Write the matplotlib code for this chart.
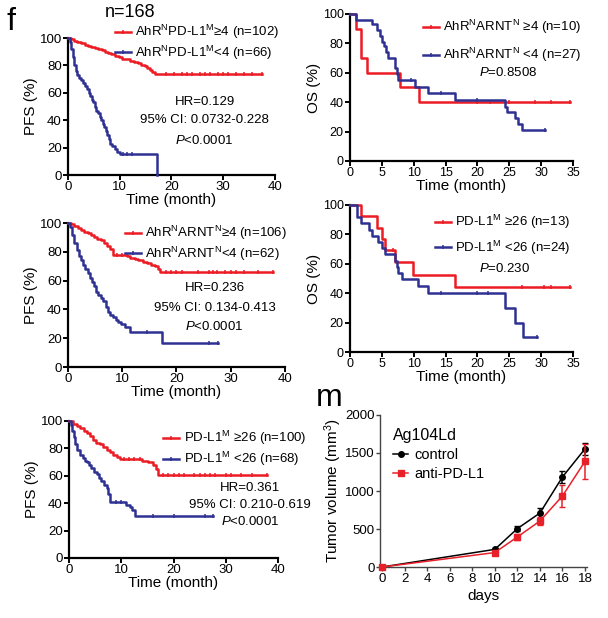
import matplotlib
matplotlib.use("Agg")
import matplotlib.pyplot as plt
from matplotlib.lines import Line2D
import numpy as np

plt.rcParams['font.family'] = ['Liberation Sans', 'DejaVu Sans']
plt.rcParams['mathtext.fontset'] = 'custom'
plt.rcParams['mathtext.rm'] = 'Liberation Sans'
plt.rcParams['mathtext.it'] = 'Liberation Sans:italic'
plt.rcParams['mathtext.bf'] = 'Liberation Sans:bold'
plt.rcParams['mathtext.default'] = 'regular'

RED = '#ec1c24'
BLUE = '#2e3192'

# ---- panel f1: PFS by AhR^N PD-L1^M ----
p1_hi_t = [0.5, 1.2, 1.8, 2.5, 3.2, 3.8, 4.5, 5.2, 5.8, 6.5, 7.2, 7.8, 8.4, 9.0, 9.8,
           10.5, 11.2, 12.0, 12.8, 13.5, 14.2, 14.8, 15.3, 15.8, 16.3, 16.8]
p1_hi_s = [99, 98, 97, 96, 95, 94.5, 93.5, 92.5, 92, 91, 90, 89, 88, 87, 86,
           85, 84.5, 83.5, 82.5, 81.5, 80.5, 79.5, 78, 77, 75.5, 74]
p1_hi_end = 37.5
p1_hi_cens = [19, 20.5, 22, 23, 24, 25.5, 26.5, 27.5, 29, 30, 31, 32.5, 34, 35.5, 37.5]
p1_lo_t = [0.3, 0.6, 0.9, 1.2, 1.5, 1.8, 2.1, 2.5, 2.9, 3.3, 3.7, 4.0, 4.3, 4.6, 4.9,
           5.2, 5.5, 5.8, 6.1, 6.4, 6.7, 7.0, 7.3, 7.6, 7.9, 8.2, 8.6, 9.0, 9.5, 10.0, 17.2]
p1_lo_s = [97, 92, 86, 80, 76, 73, 71, 69, 67, 65, 63, 60, 58, 55, 53,
           50, 47, 45, 42, 40, 37, 35, 32, 29, 26, 23, 21, 19, 17, 15, 0]
p1_lo_end = 17.2
p1_lo_cens = [10.6, 11.5, 12.4]

# ---- panel f2: OS by AhR^N ARNT^N ----
p2_hi_t = [1.0, 1.8, 2.6, 7.8, 10.8]
p2_hi_s = [90, 70, 60, 50, 40]
p2_hi_end = 34.5
p2_hi_cens = [20, 22, 25, 29, 31.5, 34.5]
p2_lo_t = [1.0, 3.4, 4.2, 4.7, 5.0, 5.3, 5.6, 5.9, 7.05, 7.3, 7.6, 10.2, 12.3, 16.5,
           24.3, 24.7, 25.9, 26.3, 27.0]
p2_lo_s = [96, 93, 89, 85, 81, 78, 74, 70, 63, 59, 55, 50, 46, 41.5,
           37, 33, 29, 25, 21]
p2_lo_end = 30.6
p2_lo_cens = [9.6, 14.3, 20, 30.6]

# ---- panel f3: PFS by AhR^N ARNT^N ----
p3_hi_t = [0.6, 1.2, 1.8, 2.4, 3.0, 3.6, 4.2, 4.8, 5.4, 6.0, 6.6, 7.2, 7.8, 8.3,
           10.8, 11.5, 12.3, 13.0, 13.8, 14.5, 15.3, 16.0, 16.6, 17.0]
p3_hi_s = [99, 98, 96.5, 95, 94, 93, 92, 90.5, 89, 88, 86, 84, 82, 78,
           77, 76, 75, 74, 73, 72, 71, 70, 68, 66]
p3_hi_end = 37.8
p3_hi_cens = [9, 10, 18, 19, 20, 21, 24, 26, 26.7, 27.5, 29, 30, 31, 32.5, 35, 37.8]
p3_lo_t = [0.4, 0.8, 1.2, 1.6, 2.0, 2.4, 2.8, 3.2, 3.6, 4.0, 4.4, 4.8, 5.2, 5.6, 6.0,
           6.5, 7.0, 7.4, 7.8, 8.3, 8.8, 9.2, 9.8, 10.5, 11.4, 17.4]
p3_lo_s = [97, 92, 86, 81, 77, 74, 71, 68, 65, 62, 59, 56, 52, 50, 48,
           46, 42, 38, 36, 35, 33, 31, 30, 28, 24, 16.5]
p3_lo_end = 27.7
p3_lo_cens = [14.5, 26, 27.7]

# ---- panel f4: OS by PD-L1^M ----
p4_hi_t = [1.8, 4.2, 5.0, 5.5, 7.05, 9.9, 16.5]
p4_hi_s = [92.3, 84.6, 76.9, 69.2, 61.5, 52.7, 43.9]
p4_hi_end = 34.6
p4_hi_cens = [6.8, 27, 30.5, 31.5, 34.6]
p4_lo_t = [1.05, 1.8, 2.9, 3.4, 4.4, 5.0, 5.5, 7.05, 7.3, 7.6, 8.1, 10.7, 12.3,
           24.3, 25.9, 27.2]
p4_lo_s = [92, 87.5, 83, 79, 75, 71, 67, 62, 58, 54, 50, 45, 40, 30, 20, 10]
p4_lo_end = 29.3
p4_lo_cens = [14.3, 20, 21.6, 29.3]

# ---- panel f5: PFS by PD-L1^M ----
p5_hi_t = [0.8, 1.5, 2.1, 2.8, 3.4, 4.0, 4.6, 5.2, 5.9, 6.5, 7.2, 7.8, 8.5, 9.1, 9.7,
           14.0, 15.2, 16.1, 16.6, 17.1]
p5_hi_s = [98, 96.5, 95, 93, 91, 89, 86, 84, 83, 81, 79, 77, 75, 74, 72.5,
           71, 70, 68, 65, 60.7]
p5_hi_end = 37.8
p5_hi_cens = [10.5, 11.5, 12.5, 13.5, 18, 19, 20, 21, 22, 24, 25, 26, 27, 28,
              30, 31, 33, 35, 37.8]
p5_lo_t = [0.3, 0.6, 0.9, 1.2, 1.6, 2.1, 2.6, 3.0, 3.4, 3.9, 4.3, 4.8, 5.3, 5.8,
           6.2, 6.7, 7.2, 7.5, 7.8, 11.0, 11.6, 12.0, 12.6]
p5_lo_s = [97, 93, 88, 83, 79, 75, 73, 71, 70, 68, 65.5, 63, 61, 58.5,
           56, 53.5, 51, 47, 41, 39, 37, 35, 30.5]
p5_lo_end = 27.6
p5_lo_cens = [9, 10, 16, 20, 26, 27.6]

# ---- panel m: tumor growth ----
days = [0, 10, 12, 14, 16, 18]
ctrl_mean = [0, 232, 505, 710, 1185, 1555]
ctrl_err = [0, 20, 30, 60, 80, 80]
apdl1_mean = [0, 190, 395, 605, 935, 1390]
apdl1_err = [0, 20, 40, 50, 150, 230]


def km(ax, times, surv, end, cens, color):
    t = np.r_[0, times, end]
    s = np.r_[100, surv, surv[-1]]
    ax.step(t, s, where='post', color=color, lw=1.8, clip_on=False, zorder=3)
    c = np.asarray(cens)
    idx = np.searchsorted(t, c, side='right') - 1
    idx = np.clip(idx, 0, len(s) - 1)
    ax.plot(c, s[idx], '|', color=color, ms=3.5, mew=1.1, clip_on=False, zorder=3)


def style(ax, xmax, xstep, ylabel, tsize=9.5):
    ax.set_xlim(0, xmax)
    ax.set_ylim(0, 100)
    ax.set_xticks(np.arange(0, xmax + 1, xstep))
    ax.set_yticks(range(0, 101, 20))
    for sp in ['top', 'right']:
        ax.spines[sp].set_visible(False)
    for sp in ['left', 'bottom']:
        ax.spines[sp].set_linewidth(1.6)
    ax.tick_params(width=1.4, length=3.5, labelsize=tsize, pad=1)
    ax.set_xlabel('Time (month)', fontsize=11, labelpad=0)
    ax.set_ylabel(ylabel, fontsize=11, labelpad=1)


def legend(ax, labels, x, y, spacing, size=9.5):
    handles = [Line2D([], [], color=c, lw=1.8, marker='|', ms=3, mew=1.1)
               for c in (RED, BLUE)]
    ax.legend(handles, labels, loc='upper left', bbox_to_anchor=(x, y),
              frameon=False, fontsize=size, handlelength=1.2, handletextpad=0.35,
              labelspacing=spacing, borderpad=0, borderaxespad=0)


def stats(ax, x, lines, ys, size=9.5):
    for txt, yy in zip(lines, ys):
        ax.text(x, yy, txt, transform=ax.transAxes, ha='center', va='center',
                fontsize=size)


fig = plt.figure(figsize=(6.08, 6.18), dpi=100)

ax1 = fig.add_axes([0.1118, 0.7168, 0.3405, 0.2217])
km(ax1, p1_hi_t, p1_hi_s, p1_hi_end, p1_hi_cens, RED)
km(ax1, p1_lo_t, p1_lo_s, p1_lo_end, p1_lo_cens, BLUE)
style(ax1, 40, 10, 'PFS (%)')
legend(ax1, ['AhR$^{N}$PD-L1$^{M}$≥4 (n=102)', 'AhR$^{N}$PD-L1$^{M}$<4 (n=66)'],
       0.227, 1.11, 0.2)
stats(ax1, 0.66, ['HR=0.129', '95% CI: 0.0732-0.228', '$\\it{P}$<0.0001'],
      [0.53, 0.40, 0.25])
ax1.text(0.30, 1.185, 'n=168', transform=ax1.transAxes, ha='center', va='center',
         fontsize=13)

ax2 = fig.add_axes([0.5757, 0.7395, 0.3668, 0.2379])
km(ax2, p2_hi_t, p2_hi_s, p2_hi_end, p2_hi_cens, RED)
km(ax2, p2_lo_t, p2_lo_s, p2_lo_end, p2_lo_cens, BLUE)
style(ax2, 35, 5, 'OS (%)', 9)
legend(ax2, ['AhR$^{N}$ARNT$^{N}$ ≥4 (n=10)', 'AhR$^{N}$ARNT$^{N}$ <4 (n=27)'],
       0.327, 0.973, 0.75)
stats(ax2, 0.71, ['$\\it{P}$=0.8508'], [0.60])

ax3 = fig.add_axes([0.1118, 0.4061, 0.3569, 0.2330])
km(ax3, p3_hi_t, p3_hi_s, p3_hi_end, p3_hi_cens, RED)
km(ax3, p3_lo_t, p3_lo_s, p3_lo_end, p3_lo_cens, BLUE)
style(ax3, 40, 10, 'PFS (%)')
legend(ax3, ['AhR$^{N}$ARNT$^{N}$≥4 (n=106)', 'AhR$^{N}$ARNT$^{N}$<4 (n=62)'],
       0.263, 0.993, 0.2)
stats(ax3, 0.675, ['HR=0.236', '95% CI: 0.134-0.413', '$\\it{P}$<0.0001'],
      [0.55, 0.41, 0.28])

ax4 = fig.add_axes([0.5757, 0.4304, 0.3668, 0.2379])
km(ax4, p4_hi_t, p4_hi_s, p4_hi_end, p4_hi_cens, RED)
km(ax4, p4_lo_t, p4_lo_s, p4_lo_end, p4_lo_cens, BLUE)
style(ax4, 35, 5, 'OS (%)', 9)
legend(ax4, ['PD-L1$^{M}$ ≥26 (n=13)', 'PD-L1$^{M}$ <26 (n=24)'],
       0.38, 0.946, 0.55)
stats(ax4, 0.695, ['$\\it{P}$=0.230'], [0.57])

ax5 = fig.add_axes([0.1135, 0.0971, 0.3438, 0.2217])
km(ax5, p5_hi_t, p5_hi_s, p5_hi_end, p5_hi_cens, RED)
km(ax5, p5_lo_t, p5_lo_s, p5_lo_end, p5_lo_cens, BLUE)
style(ax5, 40, 10, 'PFS (%)')
legend(ax5, ['PD-L1$^{M}$ ≥26 (n=100)', 'PD-L1$^{M}$ <26 (n=68)'],
       0.45, 0.94, 0.2)
stats(ax5, 0.866, ['HR=0.361', '95% CI: 0.210-0.619', '$\\it{P}$<0.0001'],
      [0.51, 0.387, 0.263])

ax6 = fig.add_axes([0.6255, 0.0825, 0.3395, 0.246])
ax6.errorbar(days, ctrl_mean, yerr=ctrl_err, color='black', marker='o', ms=4,
             lw=1.1, capsize=2, elinewidth=1.1, clip_on=False, zorder=3)
ax6.errorbar(days, apdl1_mean, yerr=apdl1_err, color='#e8202a', marker='s', ms=4,
             lw=1.1, capsize=2, elinewidth=1.1, clip_on=False, zorder=4)
ax6.set_xlim(-0.15, 18.15)
ax6.set_ylim(0, 2000)
ax6.set_xticks(range(0, 19, 2))
ax6.set_yticks(range(0, 2001, 500))
for sp in ['top', 'right']:
    ax6.spines[sp].set_visible(False)
for sp in ['left', 'bottom']:
    ax6.spines[sp].set_linewidth(1.0)
    ax6.spines[sp].set_color('#444444')
ax6.tick_params(width=1.0, length=3, labelsize=9.5, pad=1, color='#444444')
ax6.set_xlabel('days', fontsize=11, labelpad=3)
ax6.set_ylabel('Tumor volume (mm$^{3}$)', fontsize=11, labelpad=1)
m_handles = [Line2D([], [], color='black', marker='o', ms=4, lw=1.1),
             Line2D([], [], color='#e8202a', marker='s', ms=4, lw=1.1)]
ax6.legend(m_handles, ['control', 'anti-PD-L1'], loc='upper left',
           bbox_to_anchor=(0.063, 0.912), frameon=False, fontsize=10.5,
           title='Ag104Ld', title_fontsize=11.5, alignment='left',
           handlelength=1.0, handletextpad=0.45, labelspacing=0.32,
           borderpad=0, borderaxespad=0)

fig.text(0.01, 0.965, 'f', fontsize=23, ha='left', va='center')
fig.text(0.52, 0.356, 'm', fontsize=23, ha='left', va='center')

fig.savefig('out.png', dpi=100)
